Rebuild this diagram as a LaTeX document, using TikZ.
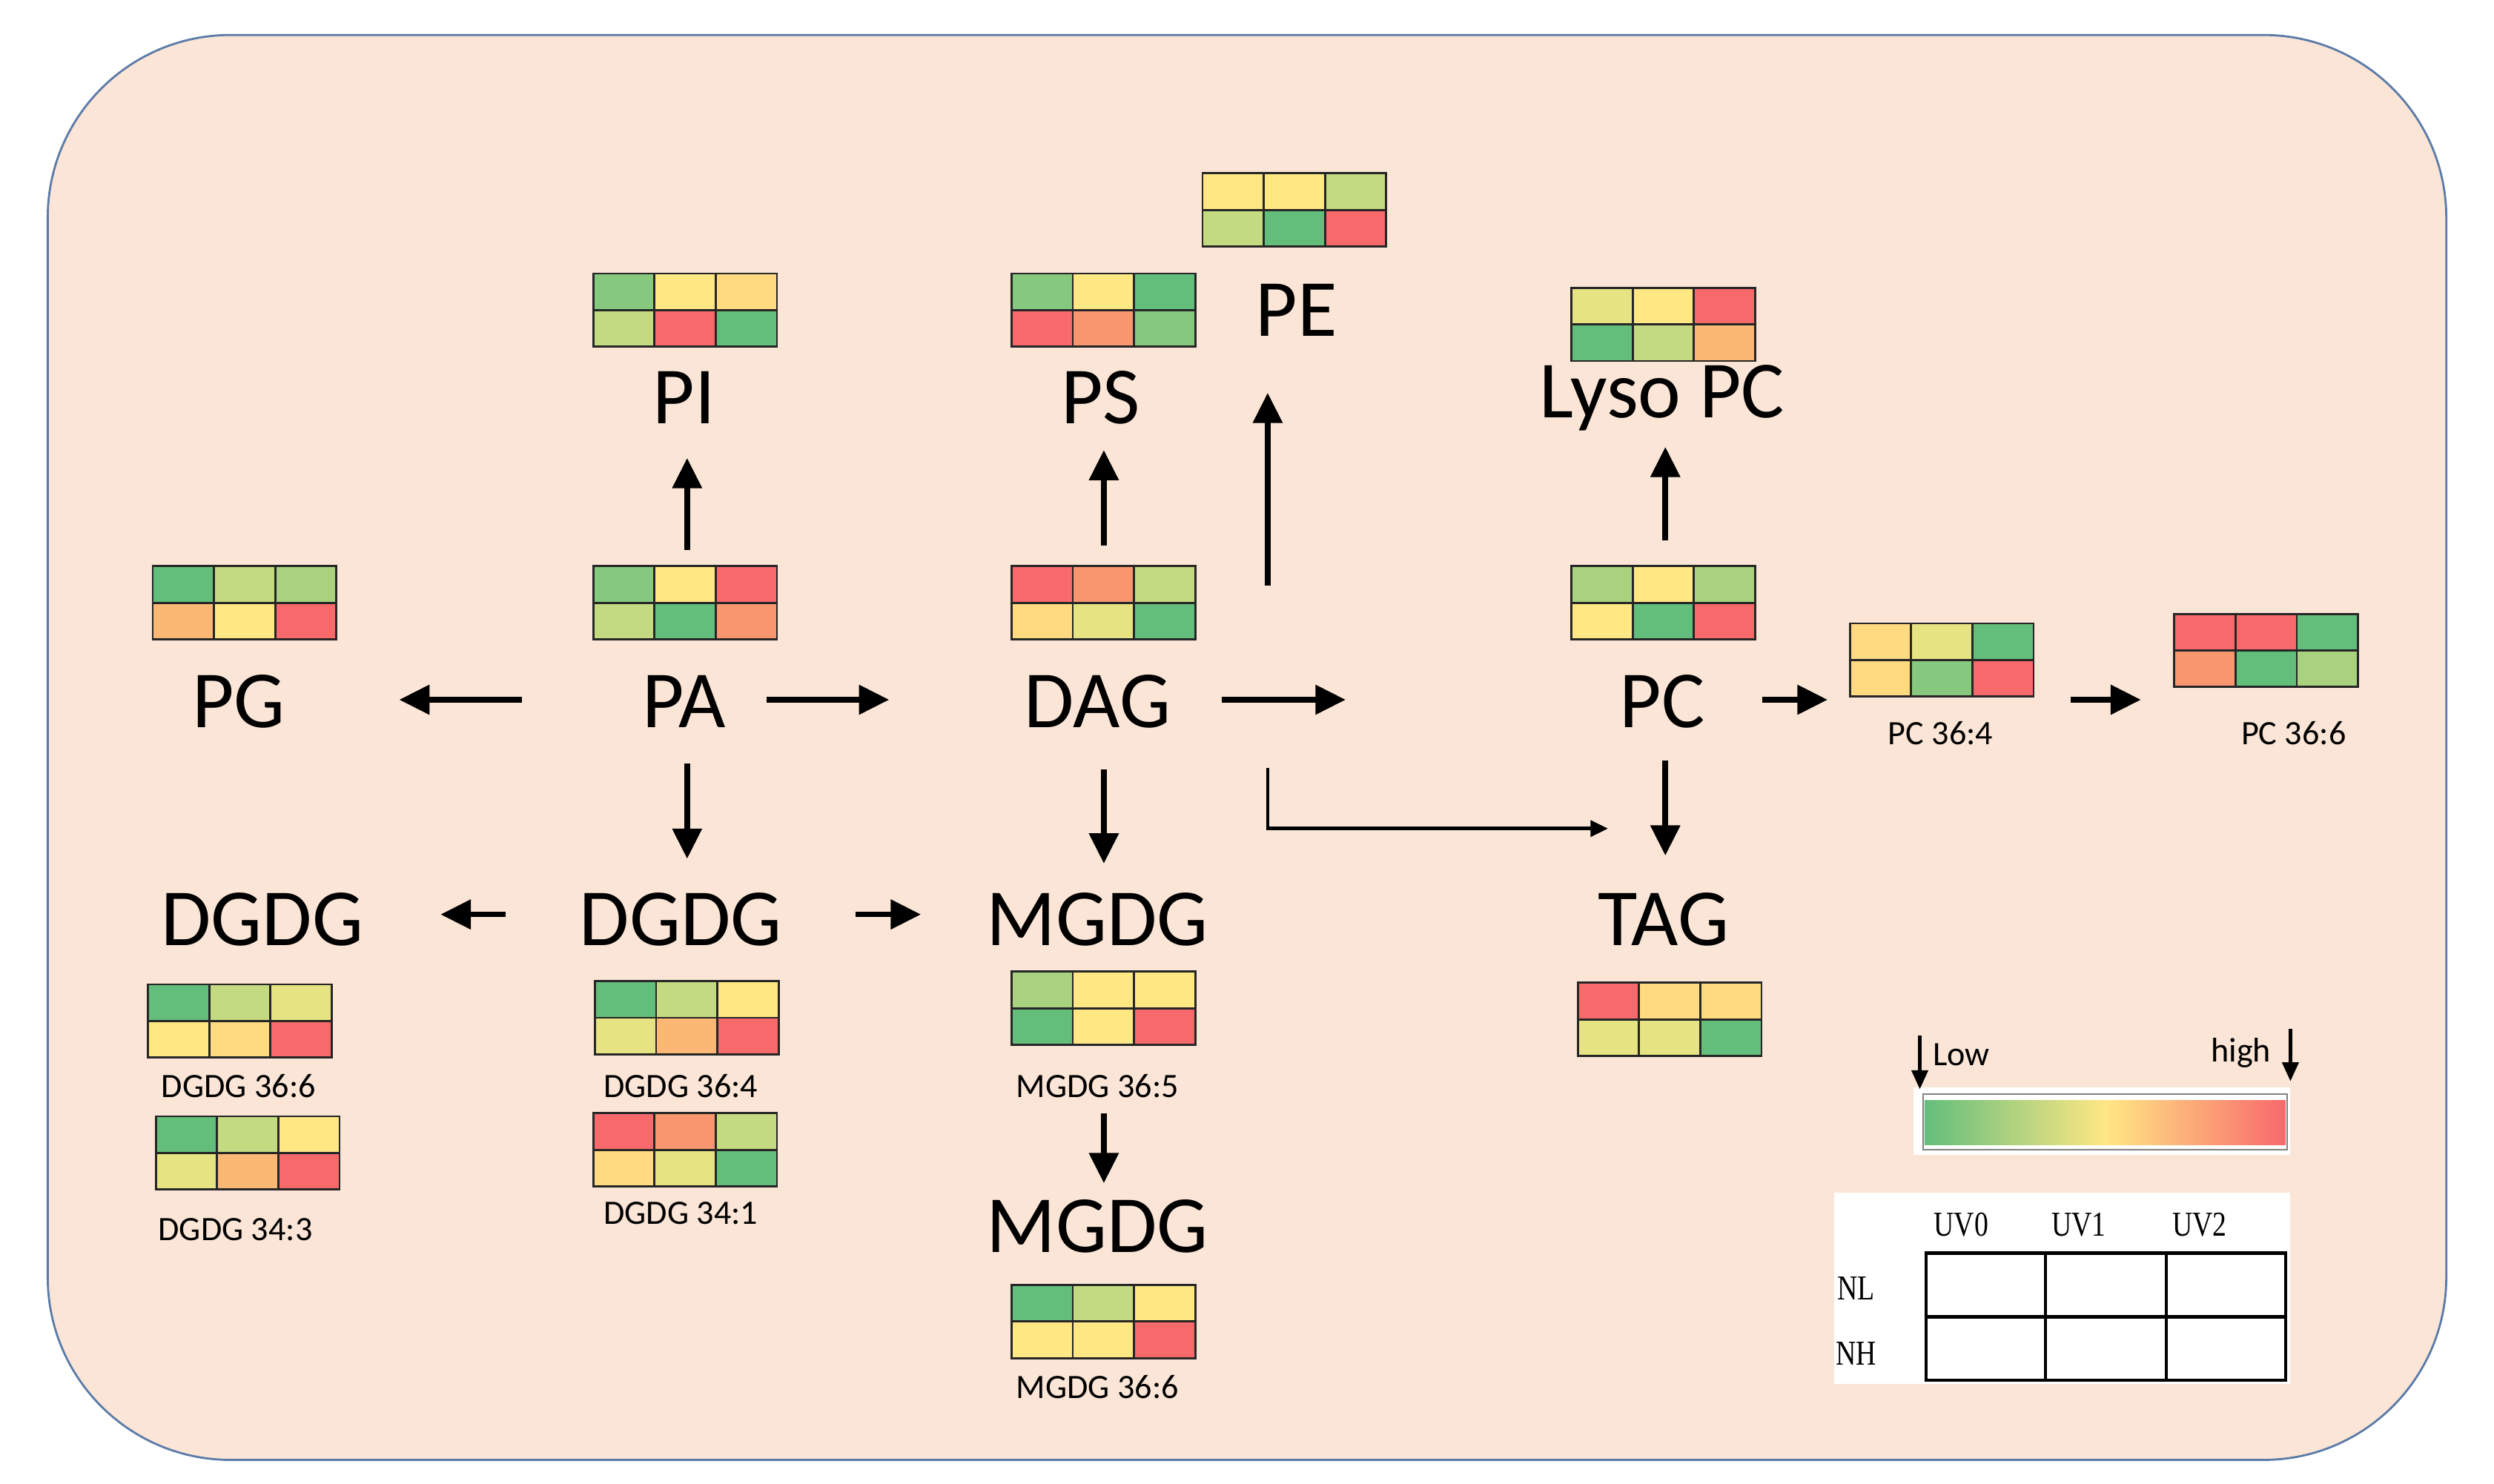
\documentclass[tikz,border=0pt]{standalone}
\usepackage{fontspec}
\setmainfont{Carlito}
\newfontfamily\serifz{Liberation Serif}
\usetikzlibrary{arrows.meta}
\definecolor{bgp}{HTML}{FBE5D6}
\definecolor{bord}{HTML}{5B7BA8}
\definecolor{G}{HTML}{63BE7B}
\definecolor{MG}{HTML}{86C97E}
\definecolor{LG}{HTML}{A9D27F}
\definecolor{YG}{HTML}{C4DA80}
\definecolor{PY}{HTML}{E6E383}
\definecolor{Y}{HTML}{FFE784}
\definecolor{LO}{HTML}{FFDA80}
\definecolor{O}{HTML}{FBB874}
\definecolor{OR}{HTML}{F8966F}
\definecolor{R}{HTML}{F8696B}
\newcommand\hmap[9]{%
 \begin{scope}[shift={(#2,#3)}]
  \fill[#4] (0,0) rectangle (38.5,23);
  \fill[#5] (38.5,0) rectangle (77,23);
  \fill[#6] (77,0) rectangle (115.5,23);
  \fill[#7] (0,23) rectangle (38.5,46);
  \fill[#8] (38.5,23) rectangle (77,46);
  \fill[#9] (77,23) rectangle (115.5,46);
  \draw[line width=1.3pt,black!85] (0,0) rectangle (115.5,46) (0,23)--(115.5,23) (38.5,0)--(38.5,46) (77,0)--(77,46);
  \coordinate (#1) at (57.75,23);
 \end{scope}}
\tikzset{
 big/.style={font=\fontsize{51}{56}\selectfont,inner sep=0pt},
 small/.style={font=\fontsize{21.5}{24}\selectfont,inner sep=0pt},
 arr/.style={line width=3.6pt,-{Triangle[length=19pt,width=18pt]}},
 thin arr/.style={line width=2.2pt,-{Triangle[length=11pt,width=10pt]}},
}
\begin{document}
\begin{tikzpicture}[x=1pt,y=-1pt]
\useasboundingbox (0,0) rectangle (1568,933);
\fill[white] (0,0) rectangle (1568,933);
\draw[fill=bgp,draw=bord,line width=1.3pt,rounded corners=115pt] (30,22) rectangle (1538,918);
% heatmaps
\hmap{hPE}{756}{109}{Y}{Y}{YG}{YG}{G}{R}
\hmap{hPI}{373}{172}{MG}{Y}{LO}{YG}{R}{G}
\hmap{hPS}{636}{172}{MG}{Y}{G}{R}{OR}{MG}
\hmap{hLPC}{988}{181}{PY}{Y}{R}{G}{YG}{O}
\hmap{hPG}{96}{356}{G}{YG}{LG}{O}{Y}{R}
\hmap{hPA}{373}{356}{MG}{Y}{R}{YG}{G}{OR}
\hmap{hDAG}{636}{356}{R}{OR}{YG}{LO}{PY}{G}
\hmap{hPC}{988}{356}{LG}{Y}{LG}{Y}{G}{R}
\hmap{hPCa}{1163}{392}{LO}{PY}{G}{LO}{MG}{R}
\hmap{hPCb}{1367}{386}{R}{R}{G}{OR}{G}{LG}
\hmap{hDa}{93}{619}{G}{YG}{PY}{Y}{LO}{R}
\hmap{hDb}{98}{702}{G}{YG}{Y}{PY}{O}{R}
\hmap{hDc}{374}{617}{G}{YG}{Y}{PY}{O}{R}
\hmap{hDd}{373}{700}{R}{OR}{YG}{LO}{PY}{G}
\hmap{hMa}{636}{611}{LG}{Y}{Y}{G}{Y}{R}
\hmap{hMb}{636}{808}{G}{YG}{Y}{Y}{Y}{R}
\hmap{hTAG}{992}{618}{R}{LO}{LO}{PY}{PY}{G}
% big labels
\node[big] (PI) at (430,250) {PI};
\node[big] (PS) at (692,250) {PS};
\node[big] (PE) at (815,195) {PE};
\node[big] (LPC) at (1045,250) {Lyso PC};
\node[big] (PG) at (150,441) {PG};
\node[big] (PA) at (430,441) {PA};
\node[big] (DAG) at (690,441) {DAG};
\node[big] (PC) at (1045,441) {PC};
\node[big] (DGDGl) at (165,578) {DGDG};
\node[big] (DGDG) at (428,578) {DGDG};
\node[big] (MGDG) at (690,578) {MGDG};
\node[big] (TAG) at (1046,578) {TAG};
\node[big] (MGDGb) at (690,771) {MGDG};
% small labels
\node[small] (lPCa) at (1220,461) {PC 36:4};
\node[small] (lPCb) at (1442,461) {PC 36:6};
\node[small] (lDa) at (150,683) {DGDG 36:6};
\node[small] (lDb) at (148,773) {DGDG 34:3};
\node[small] (lDc) at (428,683) {DGDG 36:4};
\node[small] (lDd) at (428,763) {DGDG 34:1};
\node[small] (lMa) at (690,683) {MGDG 36:5};
\node[small] (lMb) at (690,872) {MGDG 36:6};
% arrow coordinates
\coordinate (a1) at (432,346); \coordinate (a2) at (432,288);
\coordinate (b1) at (694,343); \coordinate (b2) at (694,283);
\coordinate (c1) at (797,368); \coordinate (c2) at (797,247);
\coordinate (d1) at (1047,340); \coordinate (d2) at (1047,281);
\coordinate (e1) at (328,440); \coordinate (e2) at (251,440);
\coordinate (f1) at (482,440); \coordinate (f2) at (559,440);
\coordinate (g1) at (768,440); \coordinate (g2) at (846,440);
\coordinate (h1) at (1108,440); \coordinate (h2) at (1149,440);
\coordinate (i1) at (1302,440); \coordinate (i2) at (1346,440);
\coordinate (j1) at (432,480); \coordinate (j2) at (432,540);
\coordinate (k1) at (694,484); \coordinate (k2) at (694,543);
\coordinate (l1) at (1047,478); \coordinate (l2) at (1047,538);
\coordinate (m1) at (797,483); \coordinate (m2) at (1011,521);
\coordinate (n1) at (318,575); \coordinate (n2) at (277,575);
\coordinate (o1) at (538,575); \coordinate (o2) at (579,575);
\coordinate (p1) at (694,700); \coordinate (p2) at (694,744);
\foreach \s in {a,b,c,d,e,f,g,h,i,j,k,l,n,o,p} \draw[arr] (\s1) -- (\s2);
\draw[thin arr] (m1) |- (m2);
% legend
\fill[white] (1203,684) rectangle (1440,726);
\draw[gray,line width=1.2pt] (1209,688) rectangle (1438,723);
\shade[left color=G,right color=Y] (1210,692) rectangle (1324,720);
\shade[left color=Y,right color=R] (1324,692) rectangle (1437,720);
\coordinate (lw1) at (1207,651); \coordinate (lw2) at (1207,685);
\coordinate (hg1) at (1440,647); \coordinate (hg2) at (1440,680);
\draw[line width=2.6pt,-{Triangle[length=12pt,width=10pt]}] (lw1) -- (lw2);
\draw[line width=2.6pt,-{Triangle[length=12pt,width=10pt]}] (hg1) -- (hg2);
\node[small,anchor=west] (low) at (1215,663) {Low};
\node[small,anchor=east] (high) at (1428,662) {high};
\fill[white] (1153,750) rectangle (1440,870);
\draw[line width=2pt] (1211,788) rectangle (1437,868) (1211,828)--(1437,828) (1286,788)--(1286,868) (1362,788)--(1362,868);
\begin{scope}[every node/.style={inner sep=0pt,font=\serifz\fontsize{22}{24}\selectfont}]
\node[xscale=0.8] (uv0) at (1233,770) {UV0};
\node[xscale=0.8] (uv1) at (1307,770) {UV1};
\node[xscale=0.8] (uv2) at (1383,770) {UV2};
\node[xscale=0.8] (nl) at (1167,810) {NL};
\node[xscale=0.8] (nh) at (1167,851) {NH};
\end{scope}
\end{tikzpicture}
\end{document}
